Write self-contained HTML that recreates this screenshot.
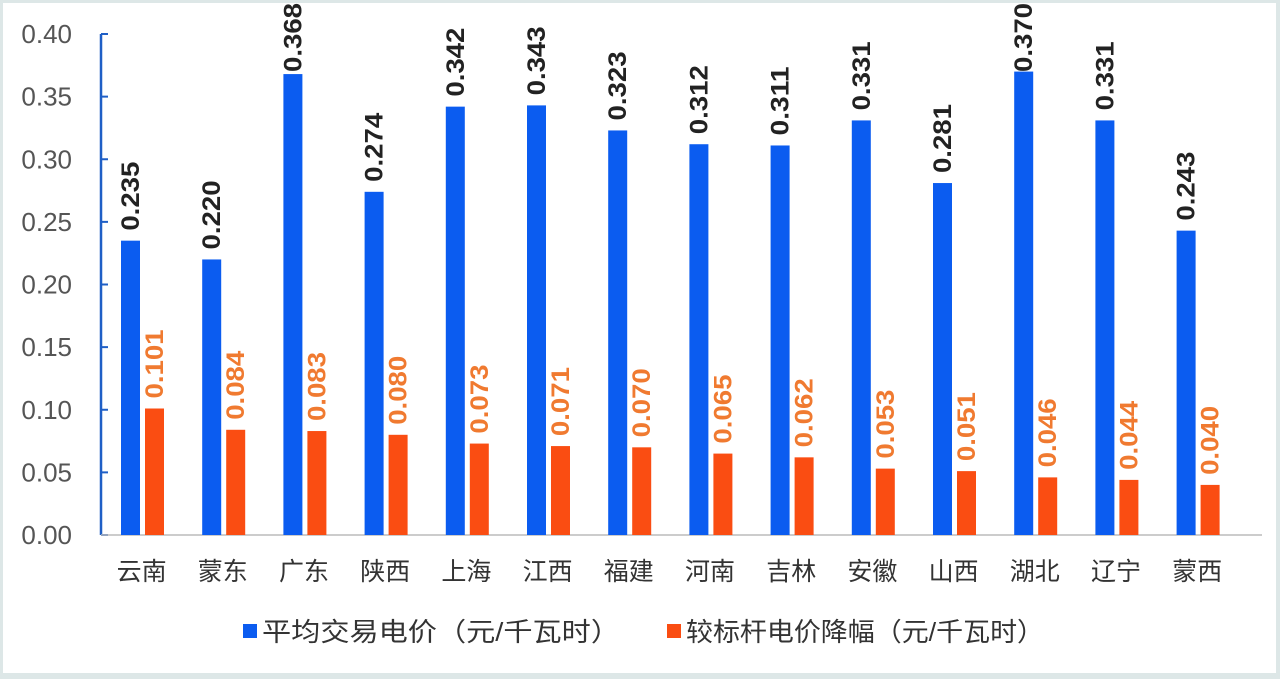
<!DOCTYPE html>
<html><head><meta charset="utf-8"><style>
html,body{margin:0;padding:0;background:#dde7e7;}
svg{display:block;font-family:"Liberation Sans","Noto Sans CJK SC",sans-serif;}
</style></head><body>
<svg id="chart" width="1280" height="679">
<rect x="3" y="3" width="1273" height="670" fill="#ffffff"/>
<g id="plot"></g>
</svg>
<script>
const categories=["云南","蒙东","广东","陕西","上海","江西","福建","河南","吉林","安徽","山西","湖北","辽宁","蒙西"];
const avgPrice=[0.235,0.220,0.368,0.274,0.342,0.343,0.323,0.312,0.311,0.331,0.281,0.370,0.331,0.243];
const priceDrop=[0.101,0.084,0.083,0.080,0.073,0.071,0.070,0.065,0.062,0.053,0.051,0.046,0.044,0.040];
const yTicks=["0.00","0.05","0.10","0.15","0.20","0.25","0.30","0.35","0.40"];
const seriesNames=["平均交易电价（元/千瓦时）","较标杆电价降幅（元/千瓦时）"];
const NS="http://www.w3.org/2000/svg";
const g=document.getElementById('plot');
const x0=101,band=81.2,y0=535,yTop=34,yMax=0.4;
const yS=v=>y0-(v/yMax)*(y0-yTop);
const xS=i=>x0+band*i;
function mk(t,a,txt){const e=document.createElementNS(NS,t);for(const k in a)e.setAttribute(k,a[k]);if(txt!=null)e.textContent=txt;g.appendChild(e);return e;}
yTicks.forEach(t=>{const v=parseFloat(t);const y=yS(v);
 const tk=mk('line',{x1:x0,x2:x0+7,y1:y,y2:y,stroke:'#1f5fc6','stroke-width':2});
 
 
 const l=mk('text',{x:72,y:y+9,'text-anchor':'end','font-size':26,fill:'#555'},t);
 
 
});
const ax=mk('line',{x1:x0,x2:x0,y1:yTop,y2:y0,stroke:'#1f5fc6','stroke-width':2.5});


const bl=mk('line',{x1:x0,x2:1262,y1:y0,y2:y0,stroke:'#bbbbbb','stroke-width':1.5});


categories.forEach((c,i)=>{
 const bx=xS(i)+20;
 const b=mk('rect',{x:bx,y:yS(avgPrice[i]),width:19,height:y0-yS(avgPrice[i]),fill:'#0b5cf0'});
 
 
 const ox=bx+24;
 const o=mk('rect',{x:ox,y:yS(priceDrop[i]),width:19,height:y0-yS(priceDrop[i]),fill:'#fa4d12'});
 
 
 const yb=Math.max(yS(avgPrice[i])-10,72);
 const t1=mk('text',{x:0,y:0,transform:`translate(${bx+18},${yb}) rotate(-90)`,'font-size':25,'font-weight':'bold',fill:'#222',textLength:69,lengthAdjust:'spacingAndGlyphs'},avgPrice[i].toFixed(3));
 
 
 const yo=yS(priceDrop[i])-10;
 const t2=mk('text',{x:0,y:0,transform:`translate(${ox+18},${yo}) rotate(-90)`,'font-size':25,'font-weight':'bold',fill:'#f07a30',textLength:69,lengthAdjust:'spacingAndGlyphs'},priceDrop[i].toFixed(3));
 
 
 const cl=mk('text',{x:xS(i)+band/2,y:580,'text-anchor':'middle','font-size':25,fill:'#333'},c);
 
 
});
const lx=[243,667],lc=['#0b5cf0','#fa4d12'];
seriesNames.forEach((n,i)=>{
 const s=mk('rect',{x:lx[i],y:624,width:14,height:14,fill:lc[i]});
 
 
 const t=mk('text',{x:lx[i]+19,y:641,'font-size':26,fill:'#333',textLength:358,lengthAdjust:'spacingAndGlyphs'},n);
 
 
});
</script>
</body></html>
